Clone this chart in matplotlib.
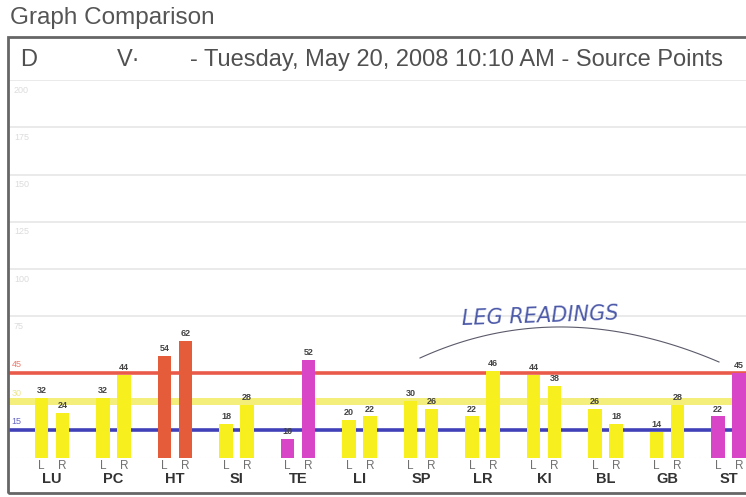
import matplotlib
matplotlib.use("Agg")
import matplotlib.pyplot as plt
import numpy as np
from matplotlib.patches import Rectangle

# ---- data ----
categories = ['LU', 'PC', 'HT', 'SI', 'TE', 'LI', 'SP', 'LR', 'KI', 'BL', 'GB', 'ST']
left_values = [32, 32, 54, 18, 10, 20, 30, 22, 44, 26, 14, 22]
right_values = [24, 44, 62, 28, 52, 22, 26, 46, 38, 18, 28, 45]
grid_ticks = [75, 100, 125, 150, 175, 200]
ref_levels = [45, 30, 15]
ref_labels = ['45', '30', '15']
title = "Graph Comparison"
header = "- Tuesday, May 20, 2008 10:10 AM - Source Points"
annotation = "LEG READINGS"

# ---- styles ----
YEL = '#f7f01e'
ORG = '#e45c3a'
MAG = '#d845c6'
cat_colors = [YEL, YEL, ORG, YEL, MAG, YEL, YEL, YEL, YEL, YEL, YEL, MAG]
ref_colors = ['#ea5a4a', '#f4ef7a', '#4040b8']
ref_widths = [2.6, 5.0, 2.6]

W, H = 746, 497
fig = plt.figure(figsize=(W / 100, H / 100), dpi=100)
plt.rcParams['font.family'] = ['Liberation Sans', 'DejaVu Sans']

# axes in pixel coords: left 9, right 746, y=0 at 458 px, y=200 at 80 px
ax_l, ax_r = 9, 746
y0_px, y200_px = 458, 80
ax = fig.add_axes([ax_l / W, (H - y0_px) / H, (ax_r - ax_l) / W, (y0_px - y200_px) / H])
spacing = 61.5
c0 = 52
ax.set_xlim((ax_l - c0) / spacing, (ax_r - c0) / spacing)
ax.set_ylim(0, 200)
ax.axis('off')

# grid lines
for t in grid_ticks:
    ax.axhline(t, color='#e6e6e6', lw=1.2, zorder=0)
    ax.text(-0.62, t - 3, str(t), color='#dcdcdc', fontsize=6.5, va='top', ha='left', zorder=0)
ax.axhline(0, color='#e8e8f0', lw=0.8, ls=(0, (3, 2)), zorder=0)

# reference lines
for lv, lab, c, lw in zip(ref_levels, ref_labels, ref_colors, ref_widths):
    ax.axhline(lv, color=c, lw=lw, zorder=1)
    tc = c if c != '#f4ef7a' else '#e8e070'
    ax.text(-0.66, lv + 2, lab, color=tc, fontsize=6.5, ha='left', va='bottom', zorder=1, alpha=0.8)

x = np.arange(len(categories))
off = 10.5 / spacing
bw = 13.5 / spacing
ax.bar(x - off, left_values, width=bw, color=cat_colors, zorder=2)
ax.bar(x + off, right_values, width=bw, color=cat_colors, zorder=2)

for xi, lv, rv in zip(x, left_values, right_values):
    ax.text(xi - off, lv + 1.5, str(lv), ha='center', va='bottom', fontsize=6.5,
            fontweight='bold', color='#444444', zorder=3)
    ax.text(xi + off, rv + 1.5, str(rv), ha='center', va='bottom', fontsize=6.5,
            fontweight='bold', color='#444444', zorder=3)
    ax.text(xi - off, -1.2, 'L', ha='center', va='top', fontsize=8.5, color='#707070', clip_on=False)
    ax.text(xi + off, -1.2, 'R', ha='center', va='top', fontsize=8.5, color='#707070', clip_on=False)
for xi, cat in zip(x, categories):
    ax.text(xi, -7.3, cat, ha='center', va='top', fontsize=10.5, fontweight='bold',
            color='#333333', clip_on=False)

# annotation arc
ax_x = lambda px: (px - c0) / spacing
ax_y = lambda py: (y0_px - py) / (y0_px - y200_px) * 200
t = np.linspace(0, 1, 60)
xs = np.array([420, 560, 719])
ys = np.array([358, 294, 362])
bx = (1 - t) ** 2 * xs[0] + 2 * (1 - t) * t * xs[1] + t ** 2 * xs[2]
by = (1 - t) ** 2 * ys[0] + 2 * (1 - t) * t * ys[1] + t ** 2 * ys[2]
ax.plot(ax_x(bx), ax_y(by), color='#5a5a6a', lw=0.8, zorder=3)
ax.text(ax_x(540), ax_y(316), annotation, ha='center', va='center', fontsize=15,
        color='#4a58a8', style='italic', rotation=2, zorder=3, fontfamily='DejaVu Sans',
        fontweight='light')

# frame
fig.patches.append(Rectangle((8 / W, (H - 493) / H), (760 - 8) / W, (493 - 37) / H,
                             transform=fig.transFigure, fill=False, ec='#666666', lw=2.0))
fig.text(10 / W, 1 - 18 / H, title, fontsize=17.5, color='#555555', ha='left', va='center')
fig.text(20 / W, 1 - 60 / H, 'D', fontsize=17, color='#505050', ha='left', va='center')
fig.text(117 / W, 1 - 60 / H, 'V·', fontsize=17, color='#505050', ha='left', va='center')
fig.text(190 / W, 1 - 60 / H, header, fontsize=17, color='#505050', ha='left', va='center')

fig.savefig('out.png', dpi=100)
